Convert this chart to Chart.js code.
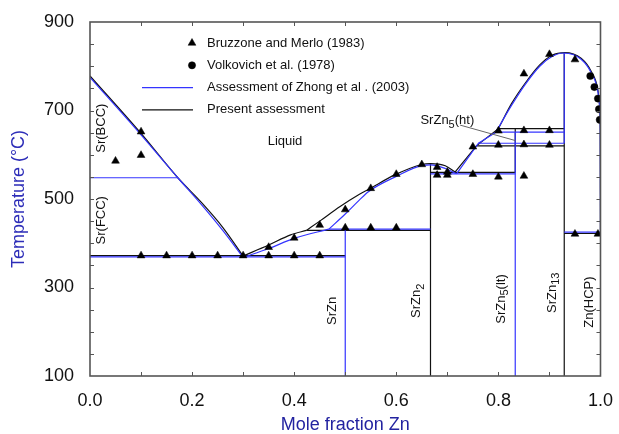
<!DOCTYPE html>
<html>
<head>
<meta charset="utf-8">
<script src="https://cdn.jsdelivr.net/npm/chart.js@4.4.0/dist/chart.umd.min.js"></script>
<style>
    html, body { margin: 0; padding: 0; background: #fff; }
</style>
</head>
<body>
<canvas id="phaseChart" width="619" height="434"></canvas>
<script>
// Sr-Zn phase diagram, x = mole fraction Zn, y = temperature (°C)

const xTickValues = [0, 0.2, 0.4, 0.6, 0.8, 1.0];
const xTickLabels = ['0.0', '0.2', '0.4', '0.6', '0.8', '1.0'];
const yTickValues = [100, 300, 500, 700, 900];

// experimental points
const bruzzoneMerlo = [
    [0.05, 586], [0.10, 599], [0.10, 652],
    [0.10, 372], [0.15, 372], [0.20, 372], [0.25, 372], [0.30, 372], [0.35, 372], [0.40, 372], [0.45, 372],
    [0.35, 391], [0.40, 412], [0.45, 441], [0.50, 476],
    [0.50, 435], [0.55, 435], [0.60, 435],
    [0.55, 524], [0.60, 556], [0.65, 578], [0.68, 572], [0.68, 554], [0.70, 561], [0.70, 554],
    [0.75, 556], [0.80, 550], [0.85, 552],
    [0.75, 618], [0.80, 622], [0.85, 623], [0.90, 622],
    [0.80, 654], [0.85, 655], [0.90, 655],
    [0.85, 783], [0.90, 827], [0.95, 815],
    [0.95, 421], [0.995, 421]
];
const volkovich = [[0.98, 778], [0.988, 753], [0.995, 727], [0.997, 703], [0.9985, 679]];

// Zhong et al. (2003) - blue
const zhongCurves = [
    [[0, 775], [0.10, 645], [0.172, 548], [0.22, 485], [0.26, 429], [0.30, 368]],
    [[0.30, 368], [0.35, 388], [0.40, 411], [0.468, 432]],
    [[0.468, 432], [0.50, 466], [0.527, 497], [0.546, 517], [0.598, 550], [0.652, 576], [0.667, 577], [0.696, 569], [0.718, 557]],
    [[0.795, 651], [0.826, 712], [0.852, 758], [0.881, 800], [0.905, 822], [0.928, 830], [0.962, 816], [0.982, 785], [0.995, 742], [0.9985, 705], [0.9995, 655], [1.0, 420]]
];
const zhongStraight = [
    [[0.718, 557], [0.761, 626], [0.795, 651]],
    [[0, 548], [0.172, 548]],
    [[0, 369], [0.5, 369]],
    [[0.5, 100], [0.5, 432]],
    [[0.468, 432], [0.667, 432]],
    [[0.667, 557], [0.833, 557]],
    [[0.761, 626], [0.929, 626]],
    [[0.795, 651], [0.929, 651]],
    [[0.833, 100], [0.833, 651]],
    [[0.929, 626], [0.929, 830]],
    [[0.929, 425], [1.0, 425]]
];

// present assessment - black
const presentCurves = [
    [[0, 778], [0.10, 648], [0.172, 548], [0.22, 490], [0.26, 436], [0.30, 371]],
    [[0.30, 371], [0.35, 396], [0.393, 419], [0.424, 429]],
    [[0.424, 429], [0.45, 450], [0.49, 483], [0.527, 510], [0.546, 522], [0.598, 555], [0.65, 578], [0.667, 580], [0.696, 575], [0.715, 561]],
    [[0.80, 659], [0.826, 716], [0.852, 761], [0.881, 803], [0.905, 825], [0.93, 831], [0.962, 818], [0.982, 788], [0.995, 746], [0.9985, 709], [0.9995, 660], [1.0, 420]]
];
const presentStraight = [
    [[0.715, 561], [0.757, 620], [0.80, 659]],
    [[0, 372], [0.5, 372]],
    [[0.424, 429], [0.667, 429]],
    [[0.667, 560], [0.833, 560]],
    [[0.757, 620], [0.929, 620]],
    [[0.80, 659], [0.929, 659]],
    [[0.929, 422], [1.0, 422]],
    [[0.667, 100], [0.667, 580]],
    [[0.833, 560], [0.833, 659]],
    [[0.929, 100], [0.929, 831]]
];

const BLUE = '#3434ff';
const FONT = '"Liberation Sans", Arial, Helvetica, sans-serif';

const toXY = arr => arr.map(p => ({ x: p[0], y: p[1] }));

function lineSet(points, color, curved, label) {
    return {
        label: label || '',
        data: toXY(points),
        showLine: true,
        borderColor: color,
        borderWidth: 1.2,
        pointRadius: 0,
        pointHoverRadius: 0,
        tension: 0,
        cubicInterpolationMode: curved ? 'monotone' : 'default'
    };
}

const datasets = [
    {
        label: 'Bruzzone and Merlo (1983)',
        data: toXY(bruzzoneMerlo),
        pointStyle: 'triangle',
        pointRadius: 4.5,
        backgroundColor: '#000',
        borderColor: '#000',
        borderWidth: 0.5,
        showLine: false
    },
    {
        label: 'Volkovich et al. (1978)',
        data: toXY(volkovich),
        pointStyle: 'circle',
        pointRadius: 3.6,
        backgroundColor: '#000',
        borderColor: '#000',
        borderWidth: 0.5,
        showLine: false
    }
];
zhongCurves.forEach((c, i) => datasets.push(lineSet(c, BLUE, true, i === 0 ? 'Assessment of Zhong et al . (2003)' : '')));
zhongStraight.forEach(c => datasets.push(lineSet(c, BLUE, false)));
presentCurves.forEach((c, i) => datasets.push(lineSet(c, '#111', true, i === 0 ? 'Present assessment' : '')));
presentStraight.forEach(c => datasets.push(lineSet(c, '#111', false)));

// region labels, "_" marks a subscript
const regionLabels = [
    { text: 'Liquid', x: 0.382, y: 630, rot: 0 },
    { text: 'Sr(BCC)', x: 0.0215, y: 660, rot: -Math.PI / 2 },
    { text: 'Sr(FCC)', x: 0.0215, y: 452, rot: -Math.PI / 2 },
    { text: 'SrZn', x: 0.4746, y: 247, rot: -Math.PI / 2 },
    { text: 'SrZn_2', x: 0.640, y: 270, rot: -Math.PI / 2 },
    { text: 'SrZn_5(lt)', x: 0.806, y: 274, rot: -Math.PI / 2 },
    { text: 'SrZn_13', x: 0.905, y: 288, rot: -Math.PI / 2 },
    { text: 'Zn(HCP)', x: 0.9786, y: 267, rot: -Math.PI / 2 },
    { text: 'SrZn_5(ht)', x: 0.700, y: 677, rot: 0 }
];

function drawChemText(ctx, text, x, y, rot) {
    const size = 13;
    const parts = [];
    text.split(/(_\d+)/).forEach(s => {
        if (!s) return;
        if (s[0] === '_') parts.push({ t: s.slice(1), sub: true });
        else parts.push({ t: s, sub: false });
    });
    ctx.save();
    ctx.translate(x, y);
    ctx.rotate(rot);
    ctx.textBaseline = 'middle';
    ctx.textAlign = 'left';
    let w = 0;
    parts.forEach(p => {
        ctx.font = (p.sub ? 11 : size) + 'px ' + FONT;
        p.w = ctx.measureText(p.t).width;
        w += p.w;
    });
    let cx = -w / 2;
    parts.forEach(p => {
        ctx.font = (p.sub ? 11 : size) + 'px ' + FONT;
        ctx.fillText(p.t, cx, p.sub ? 4 : 0);
        cx += p.w;
    });
    ctx.restore();
}

const framePlugin = {
    id: 'frameTicks',
    afterDatasetsDraw(chart) {
        const { ctx, chartArea: a, scales } = chart;
        const sx = scales.x, sy = scales.y;
        ctx.save();
        ctx.strokeStyle = '#555';
        ctx.lineWidth = 1;
        ctx.beginPath();
        for (let v = 0.1; v < 0.95; v += 0.1) {
            const px = Math.round(sx.getPixelForValue(v)) + 0.5;
            ctx.moveTo(px, a.bottom); ctx.lineTo(px, a.bottom - 4);
            ctx.moveTo(px, a.top); ctx.lineTo(px, a.top + 4);
        }
        for (let v = 150; v < 900; v += 50) {
            const py = Math.round(sy.getPixelForValue(v)) + 0.5;
            ctx.moveTo(a.left, py); ctx.lineTo(a.left + 4, py);
            ctx.moveTo(a.right, py); ctx.lineTo(a.right - 4, py);
        }
        ctx.stroke();
        ctx.lineWidth = 1.6;
        ctx.strokeRect(a.left, a.top, a.right - a.left, a.bottom - a.top);
        ctx.restore();
    }
};

const labelPlugin = {
    id: 'regionLabels',
    afterDatasetsDraw(chart) {
        const { ctx, scales } = chart;
        const sx = scales.x, sy = scales.y;
        ctx.save();
        ctx.fillStyle = '#111';
        regionLabels.forEach(l => {
            drawChemText(ctx, l.text, sx.getPixelForValue(l.x), sy.getPixelForValue(l.y), l.rot);
        });
        // leader line for SrZn5(ht)
        ctx.strokeStyle = '#666';
        ctx.lineWidth = 1;
        ctx.beginPath();
        ctx.moveTo(sx.getPixelForValue(0.725), sy.getPixelForValue(667));
        ctx.lineTo(sx.getPixelForValue(0.8334), sy.getPixelForValue(632));
        ctx.stroke();
        ctx.restore();
    }
};

const legendPlugin = {
    id: 'insideLegend',
    afterDatasetsDraw(chart) {
        const { ctx, chartArea: a } = chart;
        const entries = chart.data.datasets.filter(d => d.label);
        ctx.save();
        ctx.font = '13px ' + FONT;
        ctx.textBaseline = 'middle';
        entries.forEach((d, i) => {
            const y = a.top + 21 + i * 22.3;
            if (d.showLine) {
                ctx.strokeStyle = d.borderColor;
                ctx.lineWidth = 1.2;
                ctx.beginPath();
                ctx.moveTo(a.left + 52, y);
                ctx.lineTo(a.left + 103, y);
                ctx.stroke();
            } else {
                ctx.fillStyle = '#000';
                ctx.strokeStyle = '#000';
                ctx.lineWidth = 0.5;
                Chart.helpers.drawPoint(ctx, { pointStyle: d.pointStyle, radius: d.pointRadius, rotation: 0, borderWidth: 0.5 }, a.left + 102, y);
            }
            ctx.fillStyle = '#111';
            ctx.fillText(d.label, a.left + 117, y);
        });
        ctx.restore();
    }
};

document.addEventListener('DOMContentLoaded', () => {
    const ctx = document.getElementById('phaseChart');

    new Chart(ctx, {
        type: 'scatter',
        data: { datasets },
        options: {
            responsive: false,
            animation: false,
            devicePixelRatio: 1,
            layout: { padding: { top: 22, right: 16, left: 0, bottom: 0 } },
            plugins: {
                legend: { display: false },
                tooltip: { enabled: false }
            },
            scales: {
                x: {
                    type: 'linear',
                    min: 0,
                    max: 1,
                    afterBuildTicks: s => { s.ticks = xTickValues.map(v => ({ value: v })); },
                    afterFit: s => { s.height = 58; },
                    grid: { display: false },
                    border: { display: false },
                    ticks: {
                        padding: 6,
                        color: '#111',
                        font: { size: 18, family: FONT },
                        callback: (v, i) => xTickLabels[i]
                    },
                    title: {
                        display: true,
                        text: 'Mole fraction Zn',
                        color: '#2323a0',
                        font: { size: 18, family: FONT, lineHeight: 1 },
                        padding: { top: 0, bottom: 0 }
                    }
                },
                y: {
                    type: 'linear',
                    min: 100,
                    max: 900,
                    afterBuildTicks: s => { s.ticks = yTickValues.map(v => ({ value: v })); },
                    afterFit: s => { s.width = 90; },
                    grid: { display: false },
                    border: { display: false },
                    ticks: {
                        padding: 8,
                        color: '#111',
                        font: { size: 18, family: FONT }
                    },
                    title: {
                        display: true,
                        text: 'Temperature (°C)',
                        color: '#2d2db8',
                        font: { size: 18, family: FONT, lineHeight: 1 },
                        padding: { top: 10, bottom: 0 }
                    }
                }
            }
        },
        plugins: [framePlugin, labelPlugin, legendPlugin]
    });
});
</script>
</body>
</html>
